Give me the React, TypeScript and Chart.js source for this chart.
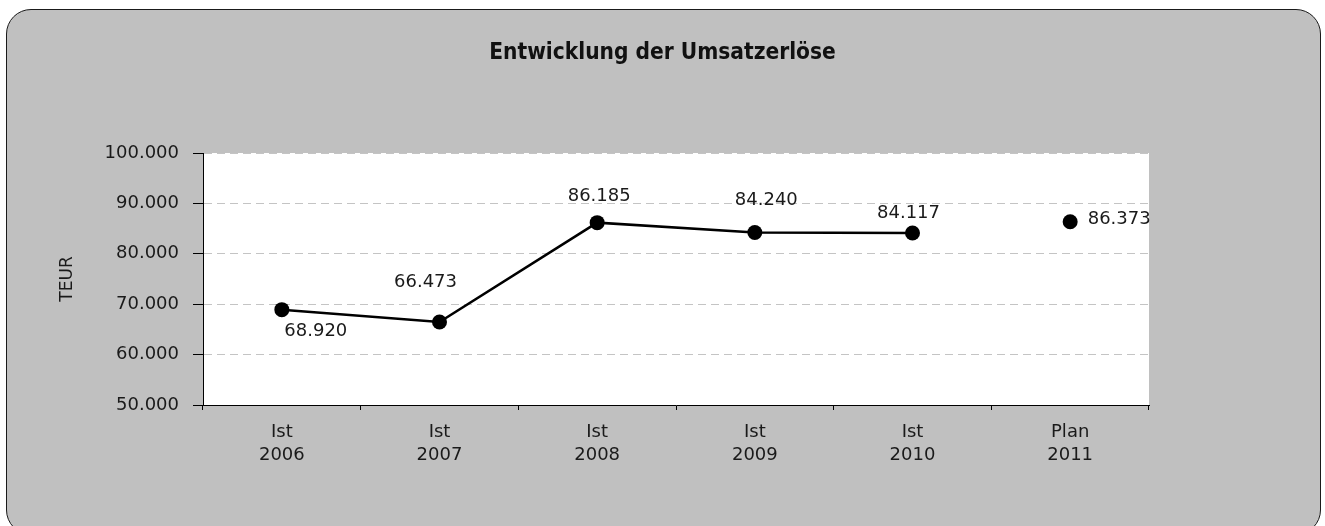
import React, { useEffect, useRef } from "react";
import { Chart, registerables } from "chart.js";

Chart.register(...registerables);

const categories: string[][] = [
  ["Ist", "2006"],
  ["Ist", "2007"],
  ["Ist", "2008"],
  ["Ist", "2009"],
  ["Ist", "2010"],
  ["Plan", "2011"],
];
const istValues: (number | null)[] = [68920, 66473, 86185, 84240, 84117, null];
const planValues: (number | null)[] = [null, null, null, null, null, 86373];
const yTicks = { min: 50000, max: 100000, step: 10000 };
const chartTitle = "Entwicklung der Umsatzerlöse";
const yAxisTitle = "TEUR";

// label offsets (style): [dx, dy] of label centre from the point, per dataset
const istLabelOffsets: [number, number][] = [
  [34, 22],
  [-14, -40],
  [2, -26],
  [11.5, -32],
  [-4, -20],
  [0, 0],
];
const planLabelOffsets: [number, number][] = [
  [0, 0], [0, 0], [0, 0], [0, 0], [0, 0],
  [49, -2.5],
];

const fmt = (v: number) => {
  const s = Math.round(v).toString();
  return s.replace(/\B(?=(\d{3})+(?!\d))/g, ".");
};

const FONT = "'DejaVu Sans', sans-serif";

const areaBgPlugin = {
  id: "areaBg",
  beforeDraw(chart: any) {
    const { ctx, chartArea } = chart;
    ctx.save();
    ctx.fillStyle = "#ffffff";
    ctx.fillRect(chartArea.left, chartArea.top, chartArea.right - chartArea.left, chartArea.bottom - chartArea.top);
    ctx.restore();
  },
};

const labelPlugin = {
  id: "pointLabels",
  afterDatasetsDraw(chart: any) {
    const ctx = chart.ctx;
    ctx.save();
    ctx.font = `18px ${FONT}`;
    ctx.fillStyle = "#1a1a1a";
    ctx.textAlign = "center";
    ctx.textBaseline = "middle";
    chart.data.datasets.forEach((ds: any, di: number) => {
      const meta = chart.getDatasetMeta(di);
      const offs = di === 0 ? istLabelOffsets : planLabelOffsets;
      meta.data.forEach((pt: any, i: number) => {
        const v = ds.data[i];
        if (v === null || v === undefined) return;
        const [dx, dy] = offs[i];
        ctx.fillText(fmt(v), pt.x + dx, pt.y + dy);
      });
    });
    ctx.restore();
  },
};

export default function App() {
  const ref = useRef<HTMLCanvasElement | null>(null);

  useEffect(() => {
    document.body.style.margin = "0";
    document.body.style.overflow = "hidden";
    const canvas = ref.current!;
    const chart = new Chart(canvas, {
      type: "line",
      data: {
        labels: categories,
        datasets: [
          {
            label: "Ist",
            data: istValues,
            borderColor: "#000",
            backgroundColor: "#000",
            borderWidth: 2.5,
            pointRadius: 7.5,
            pointBackgroundColor: "#000",
            pointBorderWidth: 0,
            tension: 0,
            spanGaps: false,
          },
          {
            label: "Plan",
            data: planValues,
            borderColor: "#000",
            backgroundColor: "#000",
            showLine: false,
            pointRadius: 7.5,
            pointBackgroundColor: "#000",
            pointBorderWidth: 0,
          },
        ],
      },
      options: {
        responsive: false,
        animation: false,
        layout: { padding: 0 },
        plugins: {
          legend: { display: false },
          tooltip: { enabled: false },
          title: {
            display: true,
            text: chartTitle,
            color: "#111",
            font: { family: "'DejaVu Sans Condensed', 'DejaVu Sans', sans-serif", size: 22.5, weight: "bold", lineHeight: 1.2 },
            padding: { top: 39.5, bottom: 86.5 },
          },
        },
        scales: {
          x: {
            type: "category",
            offset: true,
            grid: {
              display: true,
              drawOnChartArea: false,
              offset: true,
              tickLength: 5,
              tickColor: "#000",
              color: "#000",
            },
            border: { display: true, color: "#000", width: 1 },
            ticks: {
              color: "#1a1a1a",
              padding: 11,
              maxRotation: 0,
              autoSkip: false,
              font: { family: FONT, size: 18, lineHeight: 1.27 },
            },
            afterFit: (scale: any) => {
              scale.height = 121;
            },
          },
          y: {
            min: yTicks.min,
            max: yTicks.max,
            grid: {
              color: "#c4c4c4",
              tickColor: "#000",
              tickLength: 10,
              tickBorderDash: [],
            },
            border: { display: true, color: "#000", width: 1, dash: [8, 5] },
            ticks: {
              stepSize: yTicks.step,
              color: "#1a1a1a",
              padding: 14,
              font: { family: FONT, size: 18 },
              callback: (v: any) => fmt(Number(v)),
            },
            title: {
              display: true,
              text: yAxisTitle,
              color: "#1a1a1a",
              font: { family: FONT, size: 17, lineHeight: 1.2 },
              padding: { top: 57.8, bottom: 0 },
            },
            afterFit: (scale: any) => {
              scale.width = 203;
            },
          },
          yRight: {
            position: "right",
            display: true,
            min: yTicks.min,
            max: yTicks.max,
            grid: { display: false, drawOnChartArea: false },
            border: { display: false },
            ticks: { display: false },
            afterFit: (scale: any) => {
              scale.width = 176;
            },
          },
        },
      },
      plugins: [areaBgPlugin, labelPlugin],
    } as any);
    return () => chart.destroy();
  }, []);

  return (
    <div style={{ position: "relative", width: 1325, height: 526, overflow: "hidden" }}>
      <div
        style={{
          position: "absolute",
          left: 6,
          top: 9,
          width: 1315,
          height: 526,
          background: "#c0c0c0",
          border: "1.5px solid #1a1a1a",
          borderRadius: 25,
          boxSizing: "border-box",
        }}
      />
      <canvas
        ref={ref}
        width={1325}
        height={526}
        style={{ position: "absolute", left: 0, top: 0, display: "block" }}
      />
    </div>
  );
}
